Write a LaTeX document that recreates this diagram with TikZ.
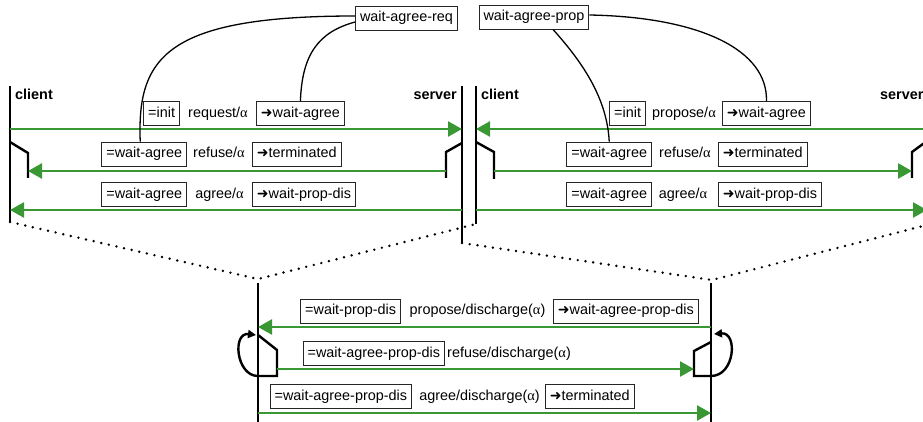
\documentclass[tikz,border=0pt]{standalone}
\usepackage{fontspec}
\setmainfont{Liberation Sans}
\newfontfamily\dvfont{DejaVu Sans}
\newfontfamily\grkfont{Liberation Serif}
\usetikzlibrary{arrows.meta}
\definecolor{msggreen}{RGB}{58,152,52}
\newcommand\lblfont{\fontsize{14.4}{17}\selectfont}
\newcommand\tarr{{\dvfont\fontsize{14}{14}\selectfont ➜}}
\newcommand\alp{{\grkfont α}}
\begin{document}
\begin{tikzpicture}[x=1pt,y=-1pt,
  lbl/.style={draw=black!85, line width=0.9pt, fill=white, inner xsep=4.5pt, inner ysep=4.75pt, text height=11pt, text depth=3.5pt, font=\lblfont},
  txt/.style={inner sep=0pt, text height=11pt, text depth=3.5pt, font=\lblfont},
  role/.style={inner sep=0pt, text height=11pt, text depth=3.5pt, font=\lblfont\bfseries},
  life/.style={line width=2.6pt},
  msg/.style={draw=msggreen, line width=2.6pt, -{Triangle[length=14pt,width=15pt]}},
  branch/.style={line width=2.4pt, line join=miter},
  dots/.style={line width=2.7pt, line cap=round, dash pattern=on 0pt off 7.8pt},
  conn/.style={line width=1.3pt},
  loopy/.style={line width=2.4pt, -{Triangle[length=8pt,width=8pt]}}
]
\useasboundingbox (0,0) rectangle (923,422);
\clip (0,0) rectangle (923,422);

% lifeline ends
\coordinate (LCt) at (10,86);  \coordinate (LCb) at (10,222);
\coordinate (LSt) at (462,86); \coordinate (LSb) at (462,243);
\coordinate (RCt) at (476,86); \coordinate (RCb) at (476,224);
\coordinate (RSt) at (927,86); \coordinate (RSb) at (927,225);
\coordinate (BLt) at (258,283); \coordinate (BLb) at (258,426);
\coordinate (BRt) at (711,283); \coordinate (BRb) at (711,426);
\coordinate (apexL) at (258,279); \coordinate (apexR) at (712,280);
% message rows
\coordinate (r1) at (0,129); \coordinate (r2) at (0,171); \coordinate (r3) at (0,210);
\coordinate (b1) at (0,327); \coordinate (b2) at (0,369); \coordinate (b3) at (0,413);
% branch corners
\coordinate (LCk) at (28,153); \coordinate (LSk) at (446,152);
\coordinate (RCk) at (494,152); \coordinate (RSk) at (912,152);
\coordinate (BLk) at (277,350); \coordinate (BRk) at (694,351);

% dotted guides
\draw[dots] (LCb) -- (apexL) -- (RCb);
\draw[dots] (LSb) -- (apexR) -- (RSb);

% lifelines
\draw[life] (LCt) -- (LCb);
\draw[life] (LSt) -- (LSb);
\draw[life] (RCt) -- (RCb);
\draw[life] (RSt) -- (RSb);
\draw[life] (BLt) -- (BLb);
\draw[life] (BRt) -- (BRb);

% branches
\draw[branch] (LCt |- 0,142) -- (LCk) -- (LCk |- 0,178);
\draw[branch] (LSt |- 0,143) -- (LSk) -- (LSk |- 0,178);
\draw[branch] (RCt |- 0,142) -- (RCk) -- (RCk |- 0,179);
\draw[branch] (RSt |- 0,141) -- (RSk) -- (RSk |- 0,178);
\draw[branch] (BLt |- 0,335) -- (BLk) -- (BLk |- 0,376) -- (BLt |- 0,376);
\draw[branch] (BRt |- 0,342) -- (BRk) -- (BRk |- 0,376) -- (BRt |- 0,376);
\draw[loopy] (BLt |- 0,376) .. controls (236,376) and (232,332) .. (256,335);
\draw[loopy] (BRt |- 0,376) .. controls (735,376) and (738,332) .. (714,334);

% messages
\draw[msg] (LCt |- r1) -- (LSt |- r1);
\draw[msg] (LSk |- r2) -- (LCk |- r2);
\draw[msg] (LSt |- r3) -- (LCt |- r3);
\draw[msg] (RSt |- r1) -- (RCt |- r1);
\draw[msg] (RCk |- r2) -- (RSk |- r2);
\draw[msg] (RCt |- r3) -- (RSt |- r3);
\draw[msg] (BRt |- b1) -- (BLt |- b1);
\draw[msg] (BLk |- b2) -- (BRk |- b2);
\draw[msg] (BLt |- b3) -- (BRt |- b3);

% role labels
\node[role, anchor=west] (Lclient) at (15,96) {client};
\node[role, anchor=east] (Lserver) at (457,96) {server};
\node[role, anchor=west] (Rclient) at (481,96) {client};
\node[role, anchor=west] (Rserver) at (880,96) {server};

% left panel labels
\node[lbl, anchor=east] (Linit) at (180,113.5) {=init};
\node[txt] (Lreq) at (218,113.5) {request/\alp};
\node[lbl, anchor=west] (Lwa) at (256,113.5) {\tarr wait-agree};
\node[lbl, anchor=east] (Lw2) at (187,154) {=wait-agree};
\node[txt] (Lref) at (219,154) {refuse/\alp};
\node[lbl, anchor=west] (Lterm) at (252,154) {\tarr terminated};
\node[lbl, anchor=east] (Lw3) at (187,194.5) {=wait-agree};
\node[txt] (Lagr) at (219.5,194.5) {agree/\alp};
\node[lbl, anchor=west] (Lwpd) at (252,194.5) {\tarr wait-prop-dis};

% right panel labels
\node[lbl, anchor=east] (Rinit) at (646,113.5) {=init};
\node[txt] (Rprop) at (684,113.5) {propose/\alp};
\node[lbl, anchor=west] (Rwa) at (722,113.5) {\tarr wait-agree};
\node[lbl, anchor=east] (Rw2) at (652,154) {=wait-agree};
\node[txt] (Rref) at (685,154) {refuse/\alp};
\node[lbl, anchor=west] (Rterm) at (718,154) {\tarr terminated};
\node[lbl, anchor=east] (Rw3) at (652,194.5) {=wait-agree};
\node[txt] (Ragr) at (683,194.5) {agree/\alp};
\node[lbl, anchor=west] (Rwpd) at (718,194.5) {\tarr wait-prop-dis};

% bottom panel labels
\node[lbl, anchor=east] (Bwpd) at (401,311) {=wait-prop-dis};
\node[txt] (Bprop) at (477.5,311) {propose/discharge(\alp)};
\node[lbl, anchor=west] (Bwapd) at (553,311) {\tarr wait-agree-prop-dis};
\node[lbl, anchor=east] (Bw2) at (445,353.5) {=wait-agree-prop-dis};
\node[txt, anchor=west] (Bref) at (447,353.5) {refuse/discharge(\alp)};
\node[lbl, anchor=east] (Bw3) at (412,396.5) {=wait-agree-prop-dis};
\node[txt] (Bagr) at (479.5,396.5) {agree/discharge(\alp)};
\node[lbl, anchor=west] (Bterm) at (545,396.5) {\tarr terminated};

% state notes
\node[lbl] (req) at (406.5,18) {wait-agree-req};
\node[lbl] (prop) at (534,17) {wait-agree-prop};
\draw[conn] ([yshift=2pt]req.west) .. controls (165,16) and (137,58) .. ([xshift=-4pt]Lw2.north);
\draw[conn] ([yshift=-4pt]req.west) .. controls (318,32) and (302,55) .. (Lwa.north);
\draw[conn] ([yshift=2pt]prop.east) .. controls (700,17) and (768,50) .. (Rwa.north);
\draw[conn] ([xshift=19pt]prop.south) .. controls (585,65) and (607,100) .. (Rw2.north);
\end{tikzpicture}
\end{document}
